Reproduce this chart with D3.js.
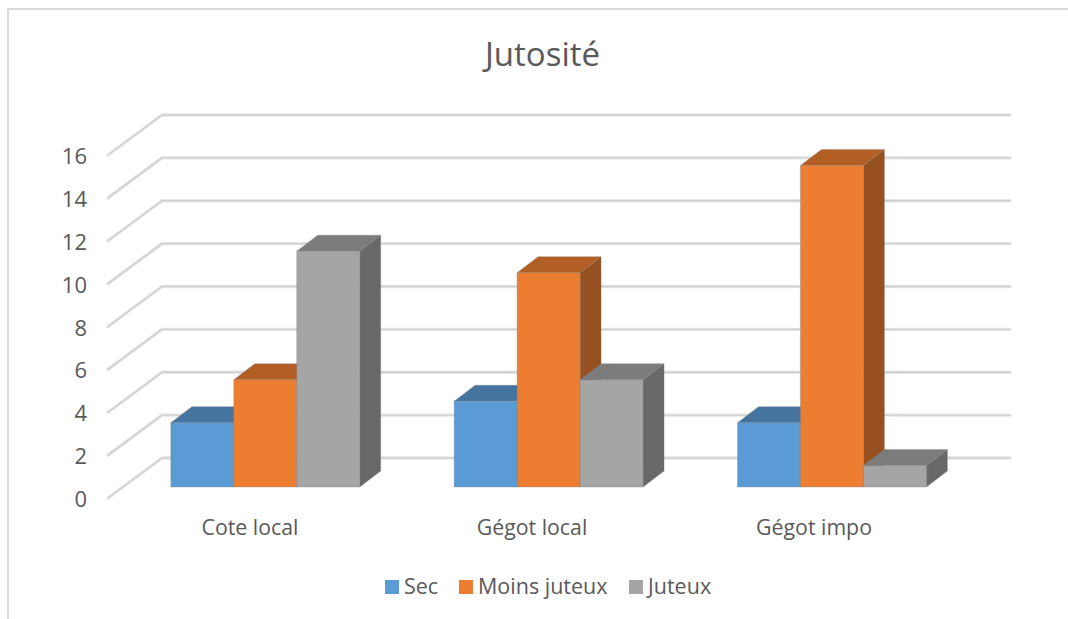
<!DOCTYPE html>
<html><head><meta charset="utf-8">
<script src="https://cdn.jsdelivr.net/npm/d3@7"></script>
<style>html,body{margin:0;padding:0;background:#fff}svg{display:block}text{font-family:"Open Sans",sans-serif;fill:#595959}</style>
</head><body><svg id="c" width="1068" height="619"></svg>
<script>
const categories = ["Cote local", "Gégot local", "Gégot impo"];
const seriesNames = ["Sec", "Moins juteux", "Juteux"];
const sec = [3, 4, 3];
const moinsJuteux = [5, 10, 15];
const juteux = [11, 5, 1];
const yTicks = [0, 2, 4, 6, 8, 10, 12, 14, 16];
const values = [sec, moinsJuteux, juteux];
const front = ["#5B9BD5", "#ED7D31", "#A5A5A5"];
const topC = ["#44749F", "#B25E25", "#7C7C7C"];
const sideC = ["#3F6C94", "#97501F", "#686868"];

const svg = d3.select("#c");
svg.append("path").attr("d", "M8 619V9H1068").attr("fill", "none").attr("stroke", "#d9d9d9").attr("stroke-width", 2);
svg.append("text").attr("x", 542.5).attr("y", 66).attr("text-anchor", "middle").attr("font-size", 33).text("Jutosité");

const y = d3.scaleLinear().domain([0, 16]).range([498, 155]);
const wallDx = 54, wallDy = -40, wallW = 849;
const x0 = d3.scaleBand().domain(categories).range([123.6, 123.6 + 850]).paddingInner(1 / 3).paddingOuter(1 / 6);
const x1 = d3.scaleBand().domain(seriesNames).range([0, x0.bandwidth()]);
const labelX = d3.scalePoint().domain(categories).range([250, 814]);
const barBase = -11, depthX = 21, depthY = -16;

const grid = svg.append("g").attr("fill", "none").attr("stroke-linecap", "round").attr("stroke-linejoin", "round");
const line = d3.line();
yTicks.forEach(t => {
  const pts = [[108, y(t)], [108 + wallDx, y(t) + wallDy], [108 + wallDx + wallW - 1, y(t) + wallDy]];
  grid.append("path").attr("d", line(pts)).attr("stroke", "#e6e6e6").attr("stroke-width", 3.4);
  grid.append("path").attr("d", line(pts)).attr("stroke", "#cfcfcf").attr("stroke-width", 1.4);
});

const axis = d3.axisLeft(y).tickValues(yTicks).tickSize(0).tickPadding(0);
const ag = svg.append("g").attr("transform", "translate(87,1.5)").call(axis);
ag.select(".domain").remove();
ag.selectAll("text").attr("font-size", 22).attr("font-family", '"Open Sans",sans-serif').attr("fill", "#595959");

const bars = svg.append("g");
values.forEach((vals, s) => {
  categories.forEach((c, i) => {
    const xl = x0(c) + x1(seriesNames[s]), w = x1.bandwidth();
    const b = y(0) + barBase, t = y(vals[i]) + barBase;
    const g = bars.append("g").attr("stroke", "#808080").attr("stroke-opacity", 0.35).attr("stroke-width", 1).attr("stroke-linejoin", "round");
    g.append("path").attr("fill", sideC[s]).attr("d", line([[xl + w, t], [xl + w + depthX, t + depthY], [xl + w + depthX, b + depthY], [xl + w, b]]) + "Z");
    g.append("path").attr("fill", topC[s]).attr("d", line([[xl, t], [xl + depthX, t + depthY], [xl + w + depthX, t + depthY], [xl + w, t]]) + "Z");
    g.append("rect").attr("x", xl).attr("y", t).attr("width", w).attr("height", b - t).attr("fill", front[s]);
  });
});

svg.append("g").selectAll("text").data(categories).join("text")
  .attr("x", d => labelX(d)).attr("y", 535)
  .attr("text-anchor", "middle").attr("font-size", 21.3).text(d => d);

const legendX = [385, 459, 629];
const lg = svg.append("g");
seriesNames.forEach((n, i) => {
  lg.append("rect").attr("x", legendX[i]).attr("y", 580).attr("width", 14).attr("height", 14).attr("fill", front[i]);
  lg.append("text").attr("x", legendX[i] + 19).attr("y", 594).attr("font-size", 21.5).text(n);
});
</script></body></html>
